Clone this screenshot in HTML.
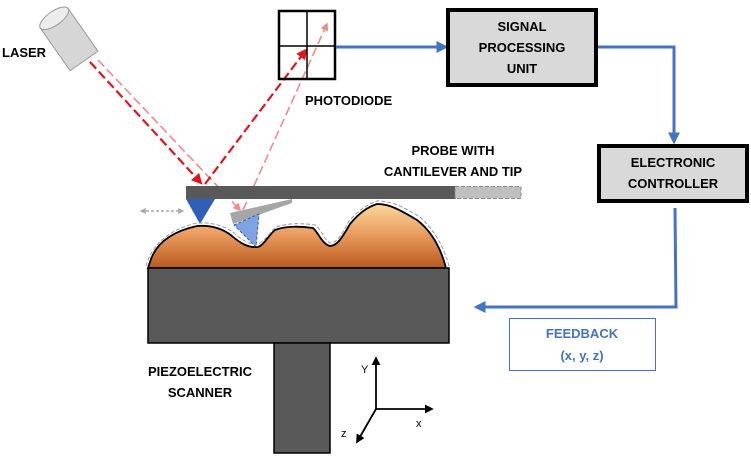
<!DOCTYPE html>
<html><head><meta charset="utf-8"><style>
html,body{margin:0;padding:0;background:#fff;}
svg{display:block;font-family:"Liberation Sans",sans-serif;font-weight:bold;}
</style></head><body>
<svg width="751" height="456" viewBox="0 0 751 456" xmlns="http://www.w3.org/2000/svg">
<defs>
<linearGradient id="g" x1="0" y1="0" x2="0" y2="1">
<stop offset="0" stop-color="#fbd79a"/><stop offset="0.5" stop-color="#e8985c"/><stop offset="1" stop-color="#b85a1e"/>
</linearGradient>
<marker id="ab" viewBox="0 0 10 10" refX="8" refY="5" markerWidth="4" markerHeight="4" orient="auto"><path d="M0,0L10,5L0,10z" fill="#4472c4"/></marker>
<marker id="ar" viewBox="0 0 10 10" refX="8" refY="5" markerWidth="5" markerHeight="5" orient="auto"><path d="M0,0L10,5L0,10z" fill="#e0141c"/></marker>
<marker id="al" viewBox="0 0 10 10" refX="8" refY="5" markerWidth="5" markerHeight="5" orient="auto"><path d="M0,0L10,5L0,10z" fill="#f08a8c"/></marker>
<marker id="ak" viewBox="0 0 10 10" refX="8" refY="5" markerWidth="5" markerHeight="5" orient="auto"><path d="M0,0L10,5L0,10z" fill="#000"/></marker>
<marker id="ag" viewBox="0 0 10 10" refX="8" refY="5" markerWidth="4" markerHeight="4" orient="auto-start-reverse"><path d="M0,0L10,5L0,10z" fill="#aaa"/></marker>
</defs>

<!-- laser -->
<g transform="translate(68,38) rotate(-35)">
<rect x="-17" y="-24" width="34" height="52" fill="#d6d6d6" stroke="#999" stroke-width="1"/>
<ellipse cx="0" cy="-24" rx="17" ry="7" fill="#ececec" stroke="#999"/>
</g>
<text x="2" y="57" font-size="13">LASER</text>

<!-- beams -->
<line x1="90" y1="62" x2="201" y2="183" stroke="#e0141c" stroke-width="2.2" stroke-dasharray="9,4" marker-end="url(#ar)"/>
<line x1="98" y1="60" x2="240" y2="210" stroke="#f08a8c" stroke-width="1.6" stroke-dasharray="9,4" marker-end="url(#al)"/>
<line x1="205" y1="184" x2="306" y2="50" stroke="#e0141c" stroke-width="2.2" stroke-dasharray="9,4" marker-end="url(#ar)"/>
<line x1="243" y1="210" x2="327" y2="24" stroke="#f08a8c" stroke-width="1.6" stroke-dasharray="9,4" marker-end="url(#al)"/>

<!-- photodiode -->
<rect x="279" y="11" width="56" height="68" fill="none" stroke="#000" stroke-width="2.5"/>
<line x1="307" y1="11" x2="307" y2="79" stroke="#000" stroke-width="1.5"/>
<line x1="279" y1="46" x2="335" y2="46" stroke="#000" stroke-width="1.5"/>
<text x="305" y="105" font-size="13">PHOTODIODE</text>

<!-- connectors -->
<line x1="336" y1="47" x2="446" y2="47" stroke="#4472c4" stroke-width="3" marker-end="url(#ab)"/>
<polyline points="597,47 674,47 674,142" fill="none" stroke="#4472c4" stroke-width="3" marker-end="url(#ab)"/>
<polyline points="675,208 676,307 476,307" fill="none" stroke="#4472c4" stroke-width="3" marker-end="url(#ab)"/>

<!-- boxes -->
<rect x="448" y="10" width="148" height="75" fill="#d9d9d9" stroke="#000" stroke-width="4"/>
<text x="522" y="31" font-size="13" text-anchor="middle">SIGNAL</text>
<text x="522" y="52" font-size="13" text-anchor="middle">PROCESSING</text>
<text x="522" y="73" font-size="13" text-anchor="middle">UNIT</text>
<rect x="599" y="146" width="148" height="55" fill="#d9d9d9" stroke="#000" stroke-width="4"/>
<text x="673" y="167" font-size="13" text-anchor="middle">ELECTRONIC</text>
<text x="673" y="188" font-size="13" text-anchor="middle">CONTROLLER</text>
<rect x="509.5" y="318.5" width="146" height="52" fill="#fff" stroke="#4472c4" stroke-width="1"/>
<text x="582" y="338" font-size="13" text-anchor="middle" fill="#4472c4">FEEDBACK</text>
<text x="582" y="360" font-size="13" text-anchor="middle" fill="#4472c4">(x, y, z)</text>

<text x="453" y="155" font-size="13" text-anchor="middle">PROBE WITH</text>
<text x="453" y="176" font-size="13" text-anchor="middle">CANTILEVER AND TIP</text>

<!-- cantilever -->
<rect x="186" y="186" width="270" height="13" fill="#595959"/>
<rect x="455" y="186.5" width="66" height="12" fill="#bfbfbf" stroke="#888" stroke-dasharray="4,2"/>
<polygon points="186,199 215,199 200,224" fill="#2f5fb8"/>
<polygon points="230,213 292,199 292,203 233,224" fill="#a6a6a6"/>
<polygon points="234,225 259,214 256,247" fill="#7fa3e0" stroke="#2f5fb8" stroke-dasharray="3,2"/>
<line x1="141" y1="211" x2="183" y2="211" stroke="#aaa" stroke-width="1.5" stroke-dasharray="3,2" marker-start="url(#ag)" marker-end="url(#ag)"/>

<!-- surface -->
<path d="M148,268 L150,262 C155,245 170,232 197,226 C210,225 222,228 232,236 C240,243 248,248 258,247 C264,245 268,236 275,230 C285,226 300,226 313,228 C318,232 322,244 330,246 C337,246 342,238 350,224 C360,212 368,207 377,204 C388,204 397,208 417,220 C430,230 440,245 446,268 Z" fill="url(#g)" stroke="#000" stroke-width="1.8"/>
<path d="M146,266 C152,244 170,229 197,223 C212,222 225,226 234,233 C243,241 250,245 258,244 C266,240 270,232 276,227 C288,223 302,223 315,225 C322,230 325,241 330,243 C337,243 342,234 349,221 C360,209 368,204 377,201 C390,201 400,205 420,217 C433,229 443,244 449,266" fill="none" stroke="#999" stroke-width="1" stroke-dasharray="4,2"/>

<!-- scanner -->
<rect x="148" y="268" width="301" height="75" fill="#595959" stroke="#000" stroke-width="1.5"/>
<rect x="274" y="343" width="56" height="110" fill="#595959" stroke="#000" stroke-width="1.5"/>
<text x="200" y="376" font-size="13" text-anchor="middle">PIEZOELECTRIC</text>
<text x="200" y="397" font-size="13" text-anchor="middle">SCANNER</text>

<!-- axes -->
<line x1="376" y1="409" x2="376" y2="358" stroke="#000" stroke-width="1.8" marker-end="url(#ak)"/>
<line x1="376" y1="409" x2="432" y2="409" stroke="#000" stroke-width="1.8" marker-end="url(#ak)"/>
<line x1="376" y1="409" x2="357" y2="442" stroke="#000" stroke-width="1.8" marker-end="url(#ak)"/>
<text x="361" y="373" font-size="11" font-weight="normal">Y</text>
<text x="416" y="427" font-size="11" font-weight="normal">x</text>
<text x="341" y="437" font-size="11" font-weight="normal">z</text>
</svg>
</body></html>
